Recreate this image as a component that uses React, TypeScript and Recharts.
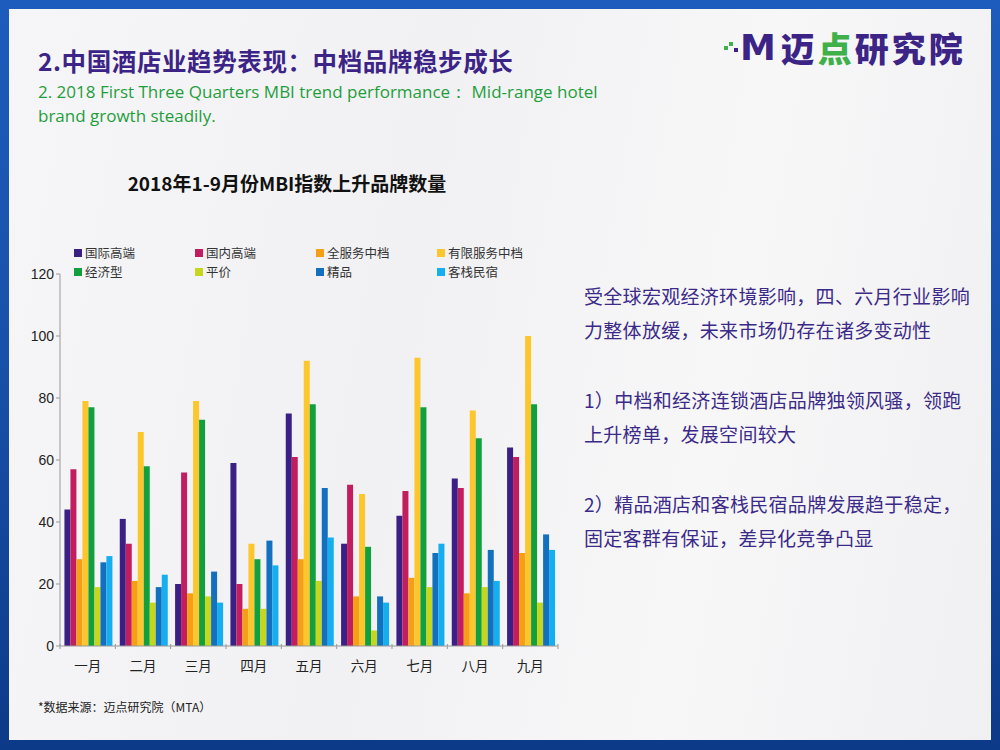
import React from 'react';
import { BarChart, Bar, XAxis, YAxis } from 'recharts';

const months = ['一月', '二月', '三月', '四月', '五月', '六月', '七月', '八月', '九月'];

const intlHigh = [44, 41, 20, 59, 75, 33, 42, 54, 64];
const domHigh = [57, 33, 56, 20, 61, 52, 50, 51, 61];
const fullMid = [28, 21, 17, 12, 28, 16, 22, 17, 30];
const limitedMid = [79, 69, 79, 33, 92, 49, 93, 76, 100];
const economy = [77, 58, 73, 28, 78, 32, 77, 67, 78];
const budget = [19, 14, 16, 12, 21, 5, 19, 19, 14];
const boutique = [27, 19, 24, 34, 51, 16, 30, 31, 36];
const inns = [29, 23, 14, 26, 35, 14, 33, 21, 31];

const yTicks = [0, 20, 40, 60, 80, 100, 120];

const series = [
  { key: 's1', name: '国际高端', values: intlHigh, color: '#3a1f85' },
  { key: 's2', name: '国内高端', values: domHigh, color: '#c21d5e' },
  { key: 's3', name: '全服务中档', values: fullMid, color: '#f49f16' },
  { key: 's4', name: '有限服务中档', values: limitedMid, color: '#fdc62c' },
  { key: 's5', name: '经济型', values: economy, color: '#12a03e' },
  { key: 's6', name: '平价', values: budget, color: '#c6d61c' },
  { key: 's7', name: '精品', values: boutique, color: '#1270bf' },
  { key: 's8', name: '客栈民宿', values: inns, color: '#15aeee' },
];

const data = months.map((m, i) => {
  const row: Record<string, string | number> = { month: m };
  series.forEach((s) => { row[s.key] = s.values[i]; });
  return row;
});

const cjk = '"Noto Sans CJK SC", "Liberation Sans", sans-serif';

const MonthTick = (props: any) => {
  const { x, y, payload, index } = props;
  const half = payload && payload.offset ? payload.offset : 27.7;
  return (
    <g>
      <line x1={x - half} x2={x - half} y1={y - 10} y2={y - 5} stroke="#999" />
      {index === months.length - 1 && (
        <line x1={x + half} x2={x + half} y1={y - 10} y2={y - 5} stroke="#999" />
      )}
      <text x={x} y={y + 17} textAnchor="middle" fontSize={13.5} fill="#222" fontFamily={cjk}>
        {payload.value}
      </text>
    </g>
  );
};

const rightText = [
  ['受全球宏观经济环境影响，四、六月行业影响', '力整体放缓，未来市场仍存在诸多变动性'],
  ['1）中档和经济连锁酒店品牌独领风骚，领跑', '上升榜单，发展空间较大'],
  ['2）精品酒店和客栈民宿品牌发展趋于稳定，', '固定客群有保证，差异化竞争凸显'],
];

export default function App() {
  return (
    <div style={{ position: 'absolute', left: 0, top: 0, width: 1000, height: 750, overflow: 'hidden',
      background: 'linear-gradient(180deg, #1d5cbc 0%, #1850a8 50%, #0c3a88 100%)' }}>
      <div style={{ position: 'absolute', left: 9, top: 9, width: 982, height: 731, overflow: 'hidden',
        background: 'linear-gradient(100deg, #f6f6f8 0%, #f1f1f3 40%, #f7f7f8 70%, #f0f0f2 100%)' }}>
        <div style={{ position: 'absolute', left: 29, top: 37, fontFamily: cjk, fontWeight: 700, fontSize: 24.5,
          color: '#3c2487', whiteSpace: 'nowrap', lineHeight: '30px', letterSpacing: 0.6 }}>
          2.中国酒店业趋势表现：中档品牌稳步成长
        </div>
        <div style={{ position: 'absolute', left: 29, top: 71, fontFamily: '"Open Sans", sans-serif', fontSize: 17,
          color: '#1f9e3c', lineHeight: '24px', whiteSpace: 'nowrap' }}>
          2. 2018 First Three Quarters MBI trend performance：&nbsp;Mid-range hotel<br />brand growth steadily.
        </div>

        <div style={{ position: 'absolute', left: 715, top: 17, height: 42, display: 'flex', alignItems: 'center' }}>
          <div style={{ position: 'relative', width: 16, height: 20 }}>
            <div style={{ position: 'absolute', left: 0, top: 9, width: 4, height: 4, background: '#3fb04a' }} />
            <div style={{ position: 'absolute', left: 5, top: 5, width: 4, height: 4, background: '#3fb04a' }} />
            <div style={{ position: 'absolute', left: 10, top: 11, width: 4, height: 4, background: '#3c2487' }} />
          </div>
          <div style={{ fontFamily: '"DejaVu Sans", sans-serif', fontWeight: 900, fontSize: 36, color: '#3c2487',
            marginRight: 5 }}>M</div>
          <div style={{ fontFamily: cjk, fontWeight: 900, fontSize: 34, color: '#3c2487', letterSpacing: 3 }}>
            迈<span style={{ color: '#3fb04a' }}>点</span>研究院
          </div>
        </div>

        <div style={{ position: 'absolute', left: 0, top: 160, width: 556, textAlign: 'center', fontFamily: cjk,
          fontWeight: 700, fontSize: 19, color: '#111' }}>
          2018年1-9月份MBI指数上升品牌数量
        </div>

        {series.map((s, i) => (
          <div key={s.key} style={{ position: 'absolute', left: 65 + (i % 4) * 121, top: 235 + Math.floor(i / 4) * 18.5,
            display: 'flex', alignItems: 'center', fontFamily: cjk, fontSize: 12.5, color: '#333', lineHeight: '18px' }}>
            <span style={{ display: 'inline-block', width: 8, height: 8, background: s.color, marginRight: 3 }} />
            {s.name}
          </div>
        ))}

        <div style={{ position: 'absolute', left: -9, top: 231 }}>
          <BarChart width={570} height={440} data={data} margin={{ top: 34, right: 12, bottom: 4, left: 0 }}
            barCategoryGap="8%" barGap={0}>
            <XAxis dataKey="month" tickLine={false} axisLine={{ stroke: '#999' }} height={30} interval={0}
              tick={<MonthTick />} />
            <YAxis domain={[0, 120]} ticks={yTicks} width={60} axisLine={{ stroke: '#999' }}
              tickLine={{ stroke: '#999' }} tickSize={4}
              tick={{ fontSize: 14, fill: '#222', fontFamily: '"Liberation Sans", Arial, sans-serif' }} />
            {series.map((s) => (
              <Bar key={s.key} dataKey={s.key} name={s.name} fill={s.color} isAnimationActive={false} />
            ))}
          </BarChart>
        </div>

        <div style={{ position: 'absolute', left: 29, top: 689, fontFamily: cjk, fontSize: 12, color: '#222' }}>
          *数据来源：迈点研究院（MTA）
        </div>

        <div style={{ position: 'absolute', left: 575, top: 270, fontFamily: cjk, fontSize: 19, color: '#3b2a88',
          lineHeight: '34px', letterSpacing: 0.3 }}>
          {rightText.map((para, i) => (
            <div key={i} style={{ marginBottom: i < rightText.length - 1 ? 36 : 0, whiteSpace: 'nowrap' }}>
              {para.map((line, j) => <div key={j}>{line}</div>)}
            </div>
          ))}
        </div>
      </div>
    </div>
  );
}
